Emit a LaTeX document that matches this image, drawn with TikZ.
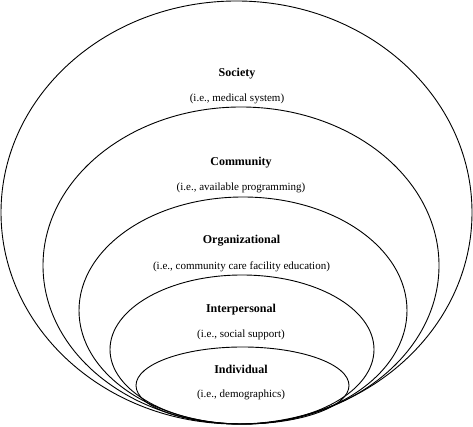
\documentclass[tikz,border=0pt]{standalone}
\usepackage{fontspec}
\setmainfont{Liberation Serif}
\usetikzlibrary{shapes.geometric}
\begin{document}
\begin{tikzpicture}[x=1pt,y=1pt,
  ring/.style={draw=black,line width=0.9pt,ellipse,inner sep=0pt},
  title/.style={font=\fontsize{12}{14}\selectfont\bfseries,inner sep=0pt},
  sub/.style={font=\fontsize{11}{13}\selectfont,inner sep=0pt}]
\useasboundingbox (0,0) rectangle (473,427);
% y = 427 - pixel y
\node[ring,minimum width=471pt,minimum height=423pt] (society) at (236.5,214.5) {};
\node[ring,minimum width=396pt,minimum height=317pt] (community) at (241,161.5) {};
\node[ring,minimum width=328pt,minimum height=227pt] (organizational) at (243,116.5) {};
\node[ring,minimum width=264pt,minimum height=149pt] (interpersonal) at (242,77.5) {};
\node[ring,minimum width=213pt,minimum height=77pt] (individual) at (242.5,41.5) {};
\node[title] (t1) at (237,353) {Society};
\node[sub] (s1) at (237,328) {(i.e., medical system)};
\node[title] (t2) at (241,264) {Community};
\node[sub] (s2) at (241,239) {(i.e., available programming)};
\node[title] (t3) at (241.5,186) {Organizational};
\node[sub] (s3) at (241.5,160) {(i.e., community care facility education)};
\node[title] (t4) at (241,117) {Interpersonal};
\node[sub] (s4) at (241,92) {(i.e., social support)};
\node[title] (t5) at (241,58) {Individual};
\node[sub] (s5) at (241,32) {(i.e., demographics)};
\end{tikzpicture}
\end{document}
